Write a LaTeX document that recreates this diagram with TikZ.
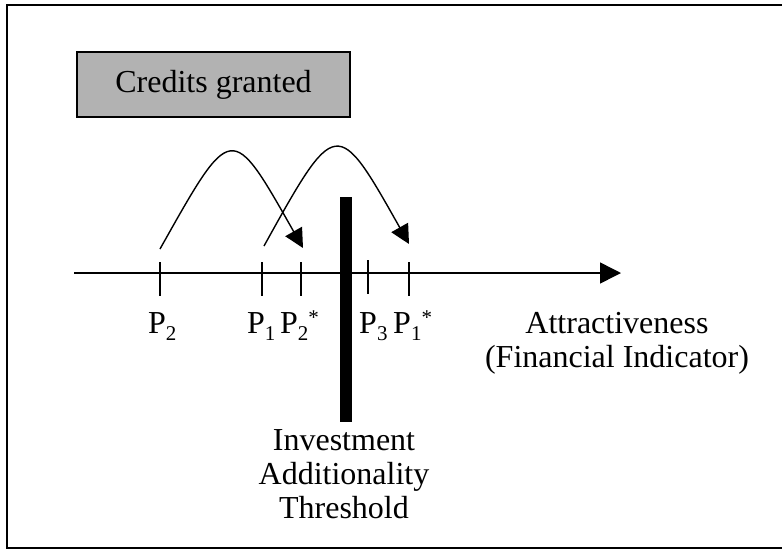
\documentclass[tikz,border=0pt]{standalone}
\usepackage{fontspec}
\setmainfont{Liberation Serif}
\usetikzlibrary{arrows.meta}
\newcommand{\lowidx}[1]{\raisebox{-7pt}{\fontsize{21}{21}\selectfont #1}}
\newcommand{\highidx}[1]{\raisebox{9pt}{\fontsize{21}{21}\selectfont #1}}
\begin{document}
\begin{tikzpicture}[x=1pt,y=-1pt,font=\fontsize{32}{34}\selectfont,
		tick/.style={line width=1.5pt},
		jump/.style={line width=1.4pt,-{Triangle[length=19pt,width=19pt]}}]
			\useasboundingbox (0,0) rectangle (782,550);
			\draw[line width=2pt] (7,5) rectangle (790,548);
			\node[draw,line width=1.6pt,fill=black!30,minimum width=273pt,minimum height=65pt] (credits) at (213.5,84.5) {Credits granted};
			% axis
			\coordinate (axisstart) at (74,273);
			\coordinate (axisend) at (621,273);
			\draw[line width=1.5pt,-{Triangle[length=21pt,width=21pt]}] (axisstart) -- (axisend);
			% points on the axis
			\coordinate (ptwo) at (160,273);
			\coordinate (pone) at (262,273);
			\coordinate (ptwostar) at (301,273);
			\coordinate (pthree) at (368,273);
			\coordinate (ponestar) at (409,273);
			\draw[tick] (ptwo) ++(0,-11) -- ++(0,34);
			\draw[tick] (pone) ++(0,-11) -- ++(0,34);
			\draw[tick] (ptwostar) ++(0,-11) -- ++(0,34);
			\draw[tick] (pthree) ++(0,-13) -- ++(0,34);
			\draw[tick] (ponestar) ++(0,-11) -- ++(0,34);
			\node[anchor=base west,inner sep=0] (lptwo) at (148,333) {P\lowidx{2}};
			\node[anchor=base west,inner sep=0] (lpone) at (247,333) {P\lowidx{1}};
			\node[anchor=base west,inner sep=0] (lptwostar) at (280,333) {P\lowidx{2}\highidx{*}};
			\node[anchor=base west,inner sep=0] (lpthree) at (359,333) {P\lowidx{3}};
			\node[anchor=base west,inner sep=0] (lponestar) at (393,333) {P\lowidx{1}\highidx{*}};
			% jumps
			\coordinate (jumpAstart) at (160,249);
			\coordinate (jumpAend) at (303,248);
			\coordinate (jumpBstart) at (264,246);
			\coordinate (jumpBend) at (409,244);
			\draw[jump] (jumpAstart) .. controls (232,121) and (231,121) .. (jumpAend);
			\draw[jump] (jumpBstart) .. controls (336,116) and (337,116) .. (jumpBend);
			% threshold
			\fill (340,197) rectangle (352,422);
			\node[align=center,anchor=north,inner sep=0] (threshold) at (344,429) {Investment\\Additionality\\Threshold};
			\node[align=center,anchor=north,inner sep=0] (attract) at (617,312) {Attractiveness\\(Financial Indicator)};
		\end{tikzpicture}
\end{document}
